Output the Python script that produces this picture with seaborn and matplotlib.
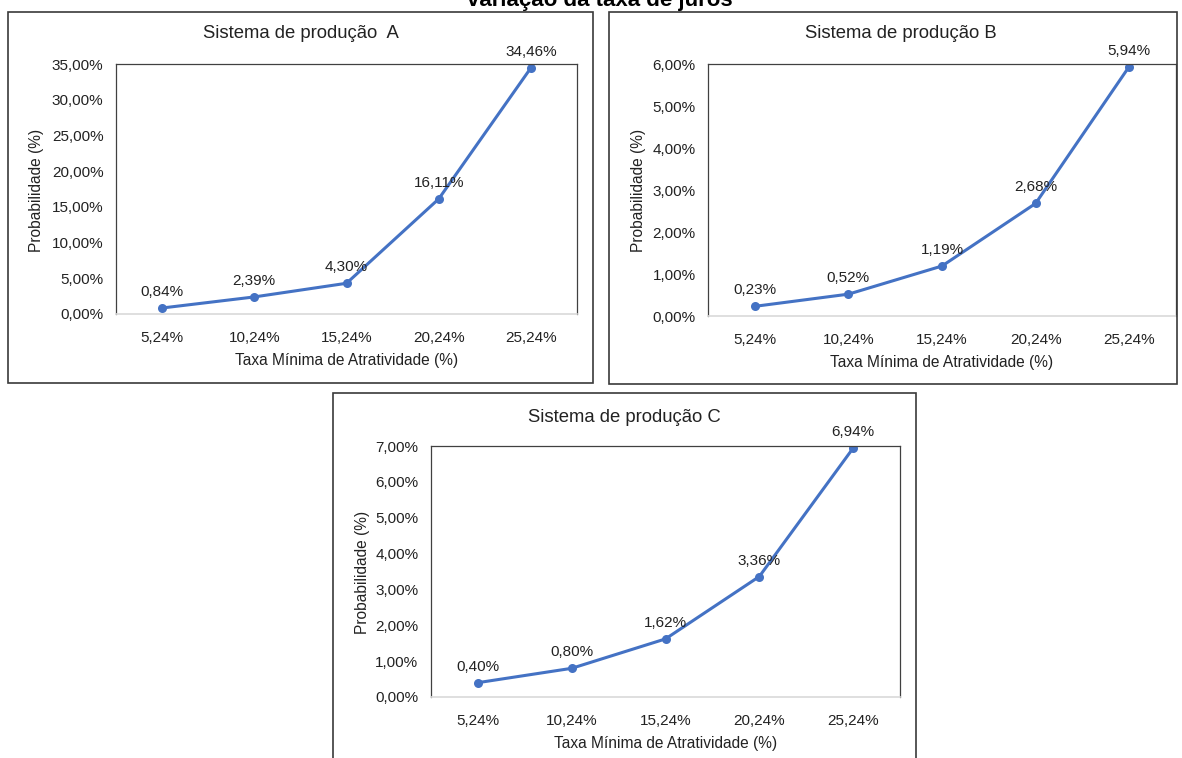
import matplotlib
matplotlib.use('Agg')
import matplotlib.pyplot as plt
from matplotlib.patches import Rectangle
from matplotlib.ticker import FuncFormatter, MultipleLocator
import seaborn as sns

sns.set_style('white')
plt.rcParams['font.family'] = ['Liberation Sans', 'DejaVu Sans']

# data (percent)
tma_labels = ['5,24%', '10,24%', '15,24%', '20,24%', '25,24%']
prob_a = [0.84, 2.39, 4.30, 16.11, 34.46]
prob_b = [0.23, 0.52, 1.19, 2.68, 5.94]
prob_c = [0.40, 0.80, 1.62, 3.36, 6.94]

titles = ['Sistema de produção  A', 'Sistema de produção B', 'Sistema de produção C']
ymax = [35, 6, 7]
ystep = [5, 1, 1]

BLUE = '#4472C4'
W, H = 1182, 758


def fmt_pct(v, pos=None):
    return f'{v:.2f}'.replace('.', ',') + '%'


def px_rect(x0, y0, x1, y1):
    # pixel box (top-left origin) -> figure fraction [l, b, w, h]
    return [x0 / W, 1 - y1 / H, (x1 - x0) / W, (y1 - y0) / H]


fig = plt.figure(figsize=(W / 100, H / 100), dpi=100)

# panel frames
frames = [(8, 12, 593, 383), (609, 12, 1177, 384), (333, 393, 916, 762)]
for x0, y0, x1, y1 in frames:
    l, b, w, h = px_rect(x0, y0, x1, y1)
    fig.patches.append(Rectangle((l, b), w, h, transform=fig.transFigure,
                                 fill=False, edgecolor='#3a3a3a', lw=1.2))

axes_px = [(116, 64, 577, 314), (708, 64, 1176, 316), (431, 446, 900, 697)]
title_px = [(301, 34), (901, 34), (624, 417)]
ylab_px = [(37, 190), (639, 190), (362, 572)]
series = [prob_a, prob_b, prob_c]

for i in range(3):
    ax = fig.add_axes(px_rect(*axes_px[i]))
    sns.lineplot(x=tma_labels, y=series[i], sort=False, ax=ax, color=BLUE,
                 lw=2.2, marker='o', markersize=6.5, markeredgewidth=0)
    ax.set_xlim(-0.5, 4.5)
    ax.set_ylim(0, ymax[i])
    ax.yaxis.set_major_locator(MultipleLocator(ystep[i]))
    ax.yaxis.set_major_formatter(FuncFormatter(fmt_pct))
    ax.tick_params(axis='both', length=0, labelsize=11, colors='#222222')
    ax.tick_params(axis='y', pad=9)
    ax.tick_params(axis='x', pad=12)
    for s in ['top', 'right', 'left']:
        ax.spines[s].set_color('#404040')
        ax.spines[s].set_linewidth(0.9)
    ax.spines['bottom'].set_color('#d9d9d9')
    ax.spines['bottom'].set_linewidth(1.2)
    ax.set_xlabel('Taxa Mínima de Atratividade (%)', fontsize=11.2,
                  color='#222222', labelpad=6)
    ax.set_ylabel('')
    for j, v in enumerate(series[i]):
        ax.annotate(fmt_pct(v), (j, v), xytext=(0, 9), textcoords='offset pixels',
                    ha='center', va='bottom', fontsize=11, color='#222222',
                    annotation_clip=False)
    tx, ty = title_px[i]
    fig.text(tx / W, 1 - ty / H, titles[i], ha='center', va='center',
             fontsize=13.3, color='#222222')
    lx, ly = ylab_px[i]
    fig.text(lx / W, 1 - ly / H, 'Probabilidade (%)', ha='center', va='center',
             rotation=90, fontsize=11.2, color='#222222')

fig.text(600 / W, 1 - 6 / H, 'variação da taxa de juros', ha='center',
         va='baseline', fontsize=16, fontweight='bold', color='black')

fig.savefig('out.png', dpi=100)
